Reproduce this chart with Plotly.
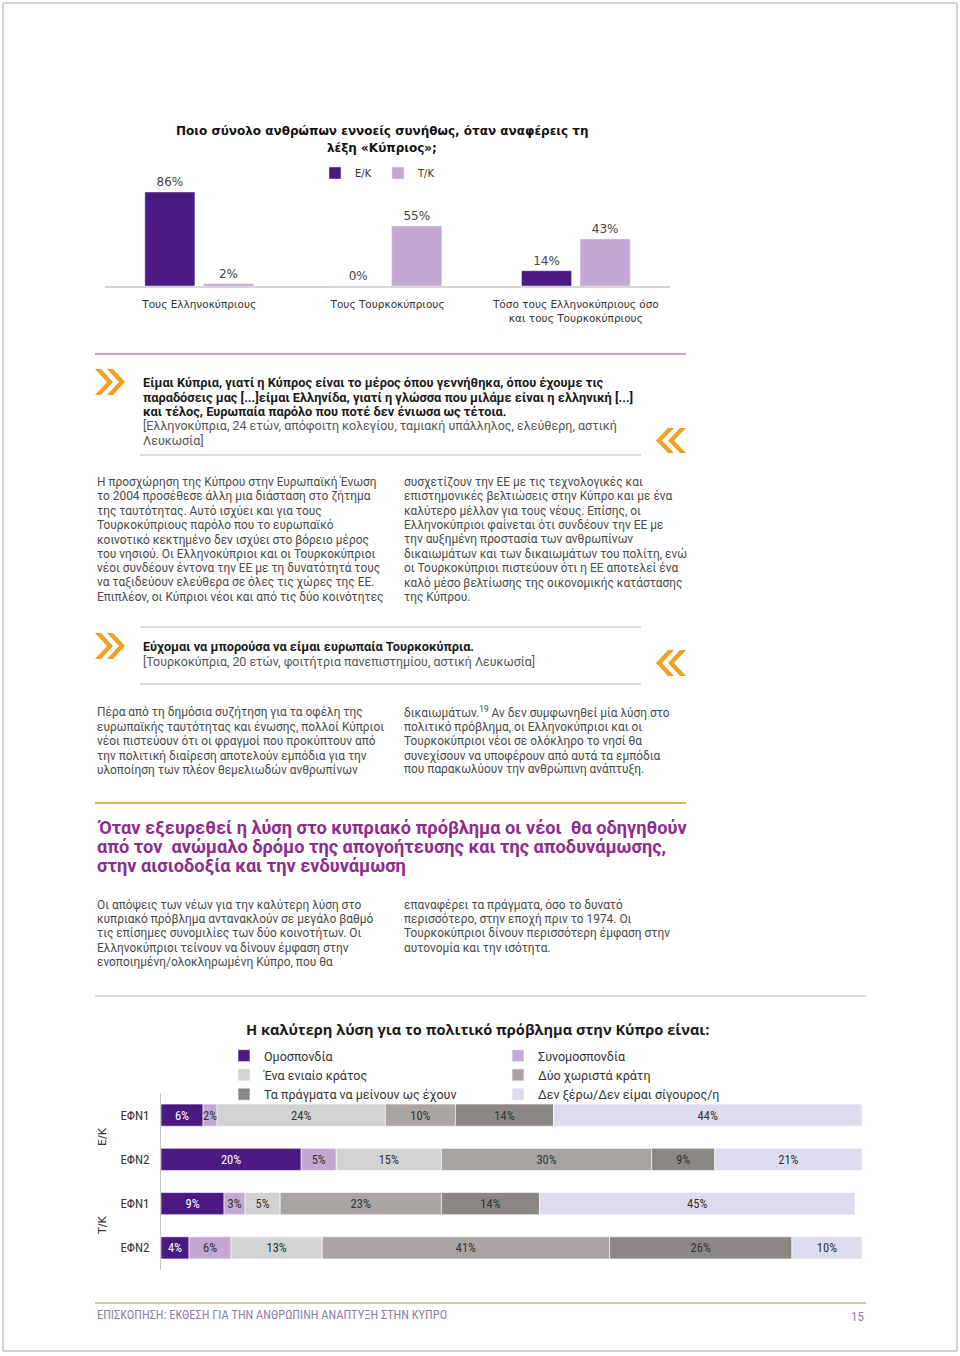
import plotly.graph_objects as go

W, H = 960, 1356
ML, MR = 95, 94
PW = W - ML - MR

def px(x):
    return (x - ML) / PW

def py(y):
    return 1 - y / H

# ---------------- data ----------------
top_title = ["Ποιο σύνολο ανθρώπων εννοείς συνήθως, όταν αναφέρεις τη", "λέξη «Κύπριος»;"]
top_categories = ["Τους Ελληνοκύπριους", "Τους Τουρκοκύπριους",
                  "Τόσο τους Ελληνοκύπριους όσο<br>και τους Τουρκοκύπριους"]
top_series = ["Ε/Κ", "Τ/Κ"]
top_ek = [86, 0, 14]
top_tk = [2, 55, 43]

bottom_title = "Η καλύτερη λύση για το πολιτικό πρόβλημα στην Κύπρο είναι:"
bottom_rows = ["Ε/Κ ΕΦΝ1", "Ε/Κ ΕΦΝ2", "Τ/Κ ΕΦΝ1", "Τ/Κ ΕΦΝ2"]
bottom_row_labels = ["ΕΦΝ1", "ΕΦΝ2", "ΕΦΝ1", "ΕΦΝ2"]
bottom_groups = ["Ε/Κ", "Τ/Κ"]
solution_names = ["Ομοσπονδία", "Συνομοσπονδία", "Ένα ενιαίο κράτος",
                  "Δύο χωριστά κράτη", "Τα πράγματα να μείνουν ως έχουν",
                  "Δεν ξέρω/Δεν είμαι σίγουρος/η"]
federation = [6, 20, 9, 4]
confederation = [2, 5, 3, 6]
unitary_state = [24, 15, 5, 13]
two_states = [10, 30, 23, 41]
status_quo = [14, 9, 14, 26]
dont_know = [44, 21, 45, 10]

quote1_bold = ["Είμαι Κύπρια, γιατί η Κύπρος είναι το μέρος όπου γεννήθηκα, όπου έχουμε τις",
               "παραδόσεις μας [...]είμαι Ελληνίδα, γιατί η γλώσσα που μιλάμε είναι η ελληνική [...]",
               "και τέλος, Ευρωπαία παρόλο που ποτέ δεν ένιωσα ως τέτοια."]
quote1_src = ["[Ελληνοκύπρια, 24 ετών, απόφοιτη κολεγίου, ταμιακή υπάλληλος, ελεύθερη, αστική",
              "Λευκωσία]"]
para1_left = ["Η προσχώρηση της Κύπρου στην Ευρωπαϊκή Ένωση",
              "το 2004 προσέθεσε άλλη μια διάσταση στο ζήτημα",
              "της ταυτότητας. Αυτό ισχύει και για τους",
              "Τουρκοκύπριους παρόλο που το ευρωπαϊκό",
              "κοινοτικό κεκτημένο δεν ισχύει στο βόρειο μέρος",
              "του νησιού. Οι Ελληνοκύπριοι και οι Τουρκοκύπριοι",
              "νέοι συνδέουν έντονα την ΕΕ με τη δυνατότητά τους",
              "να ταξιδεύουν ελεύθερα σε όλες τις χώρες της ΕΕ.",
              "Επιπλέον, οι Κύπριοι νέοι και από τις δύο κοινότητες"]
para1_right = ["συσχετίζουν την ΕΕ με τις τεχνολογικές και",
               "επιστημονικές βελτιώσεις στην Κύπρο και με ένα",
               "καλύτερο μέλλον για τους νέους. Επίσης, οι",
               "Ελληνοκύπριοι φαίνεται ότι συνδέουν την ΕΕ με",
               "την αυξημένη προστασία των ανθρωπίνων",
               "δικαιωμάτων και των δικαιωμάτων του πολίτη, ενώ",
               "οι Τουρκοκύπριοι πιστεύουν ότι η ΕΕ αποτελεί ένα",
               "καλό μέσο βελτίωσης της οικονομικής κατάστασης",
               "της Κύπρου."]
quote2_bold = ["Εύχομαι να μπορούσα να είμαι ευρωπαία Τουρκοκύπρια."]
quote2_src = ["[Τουρκοκύπρια, 20 ετών, φοιτήτρια πανεπιστημίου, αστική Λευκωσία]"]
para2_left = ["Πέρα από τη δημόσια συζήτηση για τα οφέλη της",
              "ευρωπαϊκής ταυτότητας και ένωσης, πολλοί Κύπριοι",
              "νέοι πιστεύουν ότι οι φραγμοί που προκύπτουν από",
              "την πολιτική διαίρεση αποτελούν εμπόδια για την",
              "υλοποίηση των πλέον θεμελιωδών ανθρωπίνων"]
para2_right = ["δικαιωμάτων.<sup>19</sup> Αν δεν συμφωνηθεί μία λύση στο",
               "πολιτικό πρόβλημα, οι Ελληνοκύπριοι και οι",
               "Τουρκοκύπριοι νέοι σε ολόκληρο το νησί θα",
               "συνεχίσουν να υποφέρουν από αυτά τα εμπόδια",
               "που παρακωλύουν την ανθρώπινη ανάπτυξη."]
heading = ["Όταν εξευρεθεί η λύση στο κυπριακό πρόβλημα οι νέοι  θα οδηγηθούν",
           "από τον  ανώμαλο δρόμο της απογοήτευσης και της αποδυνάμωσης,",
           "στην αισιοδοξία και την ενδυνάμωση"]
para3_left = ["Οι απόψεις των νέων για την καλύτερη λύση στο",
              "κυπριακό πρόβλημα αντανακλούν σε μεγάλο βαθμό",
              "τις επίσημες συνομιλίες των δύο κοινοτήτων. Οι",
              "Ελληνοκύπριοι τείνουν να δίνουν έμφαση στην",
              "ενοποιημένη/ολοκληρωμένη Κύπρο, που θα"]
para3_right = ["επαναφέρει τα πράγματα, όσο το δυνατό",
               "περισσότερο, στην εποχή πριν το 1974. Οι",
               "Τουρκοκύπριοι δίνουν περισσότερη έμφαση στην",
               "αυτονομία και την ισότητα."]
footer_text = "ΕΠΙΣΚΟΠΗΣΗ: ΕΚΘΕΣΗ ΓΙΑ ΤΗΝ ΑΝΘΡΩΠΙΝΗ ΑΝΑΠΤΥΞΗ ΣΤΗΝ ΚΥΠΡΟ"
page_number = "15"

# ---------------- styles ----------------
PURPLE = "#4a1a82"
LILAC = "#c2a8d2"
seg_colors = [PURPLE, LILAC, "#d2d2d2", "#a9a5a3", "#8b8785", "#dddcee"]
seg_text = ["white", "#333333", "#333333", "#333333", "#333333", "#333333"]
CHART_FONT = "DejaVu Sans"
BODY_FONT = "Roboto"
NARROW = "Roboto Condensed, Roboto, sans-serif"

fig = go.Figure()

# ---------------- top grouped bar chart ----------------
for name, vals, col in zip(top_series, [top_ek, top_tk], [PURPLE, LILAC]):
    fig.add_trace(go.Bar(
        x=top_categories, y=vals, name=name, marker_color=col,
        text=[f"{v}%" for v in vals], textposition="outside",
        textfont=dict(family=CHART_FONT, size=10, color="#444444"),
        cliponaxis=False, xaxis="x", yaxis="y", legend="legend",
        hoverinfo="skip"))

# ---------------- bottom stacked bar chart ----------------
series_vals = [federation, confederation, unitary_state, two_states, status_quo, dont_know]
bases = [0] * len(bottom_rows)
for name, vals, col, tcol in zip(solution_names, series_vals, seg_colors, seg_text):
    fig.add_trace(go.Bar(
        y=bottom_rows, x=vals, base=list(bases), orientation="h", name=name,
        marker=dict(color=col, line=dict(color="white", width=0.6)),
        width=0.5, offsetgroup="stack",
        text=[f"{v}%" for v in vals], textposition="inside",
        insidetextanchor="middle", textangle=0, constraintext="none",
        textfont=dict(family=NARROW, size=12.5, color=tcol),
        xaxis="x2", yaxis="y2", legend="legend2", hoverinfo="skip"))
    bases = [b + v for b, v in zip(bases, vals)]

fig.update_layout(
    width=W, height=H,
    margin=dict(l=ML, r=MR, t=0, b=0),
    paper_bgcolor="white", plot_bgcolor="rgba(0,0,0,0)",
    barmode="group", bargap=0.378, bargroupgap=0.145,
    uniformtext=dict(minsize=12, mode="show"),
    font=dict(family=CHART_FONT, color="#333333"),
    xaxis=dict(domain=[px(105), px(670)], anchor="y", showline=True,
               linecolor="#d6d6d6", linewidth=1.5, showgrid=False, ticks="",
               tickfont=dict(family=CHART_FONT, size=10.5, color="#333333"),
               ticklabelstandoff=8, fixedrange=True),
    yaxis=dict(domain=[py(286), py(286 - 109.3)], anchor="x", range=[0, 100],
               visible=False, fixedrange=True),
    xaxis2=dict(domain=[px(161), px(862)], anchor="y2", range=[0, 100],
                visible=False, fixedrange=True),
    yaxis2=dict(domain=[py(1270), py(1093)], anchor="x2", type="category",
                categoryorder="array", categoryarray=bottom_rows,
                range=[3.5, -0.5], showline=True, linecolor="#c4c4c4",
                linewidth=1, showgrid=False, ticks="",
                tickvals=bottom_rows, ticktext=bottom_row_labels,
                tickfont=dict(family=NARROW, size=13, color="#333333"),
                ticklabelstandoff=8, fixedrange=True),
    legend=dict(orientation="h", x=px(315), y=py(173), xanchor="left",
                yanchor="middle", font=dict(family=CHART_FONT, size=10, color="#333333"),
                entrywidth=18, entrywidthmode="pixels", bgcolor="rgba(0,0,0,0)",
                traceorder="normal"),
    legend2=dict(orientation="h", x=px(224), y=py(1041), xanchor="left",
                 yanchor="top", font=dict(family=BODY_FONT, size=12.5, color="#333333"),
                 entrywidth=229, entrywidthmode="pixels", bgcolor="rgba(0,0,0,0)",
                 traceorder="normal"),
)

ann = []

def text_line(x, y, s, size=12, color="#4a4a4a", family=BODY_FONT, bold=False,
              anchor="left"):
    if bold:
        s = f"<b>{s}</b>"
    ann.append(dict(x=px(x), y=py(y), xref="paper", yref="paper", text=s,
                    showarrow=False, xanchor=anchor, yanchor="middle",
                    font=dict(family=family, size=size, color=color)))

def block(x, y0, step, lines, **kw):
    for i, s in enumerate(lines):
        text_line(x, y0 + i * step, s, **kw)

BODY = 11.9
# top chart title
block(382, 131, 17, top_title, size=12, color="#111111", family=CHART_FONT,
      bold=True, anchor="center")
# quote 1
block(141, 383, 14.3, quote1_bold, size=12.8, color="#1a1a1a", bold=True)
block(141, 426, 14.3, quote1_src, size=12.5, color="#555555")
# paragraph 1
block(95, 482, 14.4, para1_left, size=BODY)
block(402, 482, 14.4, para1_right, size=BODY)
# quote 2
block(141, 647, 14.3, quote2_bold, size=12.8, color="#1a1a1a", bold=True)
block(141, 661, 14.3, quote2_src, size=12.4, color="#555555")
# paragraph 2
block(95, 712, 14.5, para2_left, size=BODY)
block(402, 712, 14.5, para2_right, size=BODY)
# heading
block(95, 828, 19, heading, size=18.2, color="#8e2c8e", bold=True)
# paragraph 3
block(95, 905, 14.2, para3_left, size=BODY)
block(402, 905, 14.2, para3_right, size=BODY)
# bottom chart title
text_line(477, 1029, bottom_title, size=14.6, color="#1a1a1a",
          family="Open Sans", bold=True, anchor="center")
# group labels (Ε/Κ, Τ/Κ)
for g, yc in zip(bottom_groups, [1137, 1226]):
    ann.append(dict(x=px(102), y=py(yc), xref="paper", yref="paper", text=g,
                    showarrow=False, textangle=-90, xanchor="center", yanchor="middle",
                    font=dict(family=CHART_FONT, size=11, color="#333333")))
# footer
text_line(95, 1314, footer_text, size=12.4, color="#8d7fa8", family=NARROW)
text_line(866, 1316, page_number, size=13, color="#8d7fa8", family=NARROW,
          anchor="right")

fig.update_layout(annotations=ann)

# ---------------- decorative shapes ----------------
shapes = []

def hline(y, x0, x1, color, width):
    shapes.append(dict(type="line", xref="paper", yref="paper", x0=px(x0), x1=px(x1),
                       y0=py(y), y1=py(y), line=dict(color=color, width=width)))

hline(354, 95, 686, "#c9a6c9", 2)
hline(455, 140, 641, "#d2d2d2", 1.5)
hline(627, 140, 641, "#d2d2d2", 1.5)
hline(684, 140, 641, "#d2d2d2", 1.5)
hline(803, 95, 686, "#e8b24a", 2)
hline(996, 95, 866, "#cfcfcf", 1.5)
hline(1303, 95, 866, "#d8c9a0", 2)

# page frame
shapes.append(dict(type="rect", xref="paper", yref="paper", x0=px(3), x1=px(957),
                   y0=py(1351), y1=py(3), line=dict(color="#a8a8a8", width=1)))

ORANGE = "#f0a022"

def chevrons(x, y0, y1, right=True):
    ym = (y0 + y1) / 2
    for off in (0, 12):
        if right:
            a = x + off
            pts = [(a, y0), (a + 6, y0), (a + 18, ym), (a + 6, y1), (a, y1), (a + 12, ym)]
        else:
            b = x - off
            pts = [(b, y0), (b - 6, y0), (b - 18, ym), (b - 6, y1), (b, y1), (b - 12, ym)]
        path = "M " + " L ".join(f"{px(p[0])},{py(p[1])}" for p in pts) + " Z"
        shapes.append(dict(type="path", xref="paper", yref="paper", path=path,
                           fillcolor=ORANGE, line=dict(width=0)))

chevrons(95, 369, 395, right=True)
chevrons(686, 428, 453, right=False)
chevrons(95, 633, 659, right=True)
chevrons(686, 650, 676, right=False)

fig.update_layout(shapes=shapes)

fig.write_html("out.html", config={"displayModeBar": False},
               post_script="document.body.style.margin='0';")
